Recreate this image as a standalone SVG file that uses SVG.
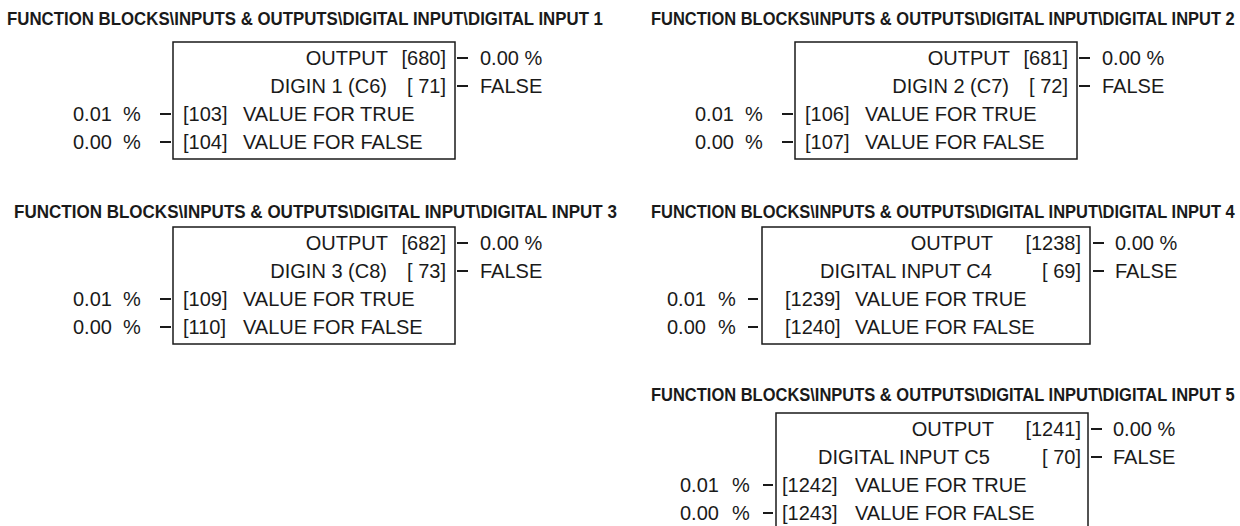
<svg xmlns="http://www.w3.org/2000/svg" width="1240" height="526" viewBox="0 0 1240 526">
<style>
text{font-family:"Liberation Sans",Arial,sans-serif;fill:#1a1a1a}
.t{font-size:19px;font-weight:bold}
.r{font-size:20px}
.e{text-anchor:end}
.box{fill:#fff;stroke:#1a1a1a;stroke-width:1.5}
.d{stroke:#1a1a1a;stroke-width:2}
</style>
<rect width="1240" height="526" fill="#fff"/>
<g id="di1">
<text class="t" transform="translate(7,25) scale(0.87,1)" x="0" y="0" textLength="685" lengthAdjust="spacingAndGlyphs">FUNCTION BLOCKS\INPUTS &amp; OUTPUTS\DIGITAL INPUT\DIGITAL INPUT 1</text>
<rect class="box" x="173" y="42" width="282" height="117"/>
<text class="r e" x="388" y="65">OUTPUT</text><text class="r e" x="446" y="65">[680]</text>
<text class="r e" x="387" y="93">DIGIN 1 (C6)</text><text class="r e" x="446" y="93">[ 71]</text>
<text class="r" x="183" y="121">[103]</text><text class="r" x="243" y="121">VALUE FOR TRUE</text>
<text class="r" x="183" y="149">[104]</text><text class="r" x="243" y="149">VALUE FOR FALSE</text>
<text class="r" x="73" y="121">0.01<tspan x="123">%</tspan></text>
<text class="r" x="73" y="149">0.00<tspan x="123">%</tspan></text>
<text class="r" x="480" y="65">0.00 %</text><text class="r" x="480" y="93">FALSE</text>
</g>
<g id="di2">
<text class="t" transform="translate(651,25) scale(0.87,1)" x="0" y="0" textLength="671" lengthAdjust="spacingAndGlyphs">FUNCTION BLOCKS\INPUTS &amp; OUTPUTS\DIGITAL INPUT\DIGITAL INPUT 2</text>
<rect class="box" x="795" y="42" width="282" height="117"/>
<text class="r e" x="1010" y="65">OUTPUT</text><text class="r e" x="1068" y="65">[681]</text>
<text class="r e" x="1009" y="93">DIGIN 2 (C7)</text><text class="r e" x="1068" y="93">[ 72]</text>
<text class="r" x="805" y="121">[106]</text><text class="r" x="865" y="121">VALUE FOR TRUE</text>
<text class="r" x="805" y="149">[107]</text><text class="r" x="865" y="149">VALUE FOR FALSE</text>
<text class="r" x="695" y="121">0.01<tspan x="745">%</tspan></text>
<text class="r" x="695" y="149">0.00<tspan x="745">%</tspan></text>
<text class="r" x="1102" y="65">0.00 %</text><text class="r" x="1102" y="93">FALSE</text>
</g>
<g id="di3">
<text class="t" transform="translate(14,218) scale(0.87,1)" x="0" y="0" textLength="693" lengthAdjust="spacingAndGlyphs">FUNCTION BLOCKS\INPUTS &amp; OUTPUTS\DIGITAL INPUT\DIGITAL INPUT 3</text>
<rect class="box" x="173" y="227" width="282" height="117"/>
<text class="r e" x="388" y="250">OUTPUT</text><text class="r e" x="446" y="250">[682]</text>
<text class="r e" x="387" y="278">DIGIN 3 (C8)</text><text class="r e" x="446" y="278">[ 73]</text>
<text class="r" x="183" y="306">[109]</text><text class="r" x="243" y="306">VALUE FOR TRUE</text>
<text class="r" x="183" y="334">[110]</text><text class="r" x="243" y="334">VALUE FOR FALSE</text>
<text class="r" x="73" y="306">0.01<tspan x="123">%</tspan></text>
<text class="r" x="73" y="334">0.00<tspan x="123">%</tspan></text>
<text class="r" x="480" y="250">0.00 %</text><text class="r" x="480" y="278">FALSE</text>
</g>
<g id="di4">
<text class="t" transform="translate(651,218) scale(0.87,1)" x="0" y="0" textLength="671" lengthAdjust="spacingAndGlyphs">FUNCTION BLOCKS\INPUTS &amp; OUTPUTS\DIGITAL INPUT\DIGITAL INPUT 4</text>
<rect class="box" x="762" y="227" width="328" height="117"/>
<text class="r e" x="993" y="250">OUTPUT</text><text class="r e" x="1081" y="250">[1238]</text>
<text class="r" x="820" y="278">DIGITAL INPUT C4</text><text class="r e" x="1081" y="278">[ 69]</text>
<text class="r" x="785" y="306">[1239]</text><text class="r" x="855" y="306">VALUE FOR TRUE</text>
<text class="r" x="785" y="334">[1240]</text><text class="r" x="855" y="334">VALUE FOR FALSE</text>
<text class="r" x="667" y="306">0.01<tspan x="718">%</tspan></text>
<text class="r" x="667" y="334">0.00<tspan x="718">%</tspan></text>
<text class="r" x="1115" y="250">0.00 %</text><text class="r" x="1115" y="278">FALSE</text>
</g>
<g id="di5">
<text class="t" transform="translate(651,401) scale(0.87,1)" x="0" y="0" textLength="671" lengthAdjust="spacingAndGlyphs">FUNCTION BLOCKS\INPUTS &amp; OUTPUTS\DIGITAL INPUT\DIGITAL INPUT 5</text>
<rect class="box" x="776" y="413" width="312" height="130"/>
<text class="r e" x="994" y="436">OUTPUT</text><text class="r e" x="1081" y="436">[1241]</text>
<text class="r" x="818" y="464">DIGITAL INPUT C5</text><text class="r e" x="1081" y="464">[ 70]</text>
<text class="r" x="782" y="492">[1242]</text><text class="r" x="855" y="492">VALUE FOR TRUE</text>
<text class="r" x="782" y="520">[1243]</text><text class="r" x="855" y="520">VALUE FOR FALSE</text>
<text class="r" x="680" y="492">0.01<tspan x="732">%</tspan></text>
<text class="r" x="680" y="520">0.00<tspan x="732">%</tspan></text>
<text class="r" x="1113" y="436">0.00 %</text><text class="r" x="1113" y="464">FALSE</text>
</g>
<g id="connectors">
<path class="d" d="M457 58H468M457 86H468M160 114H171M160 142H171"/>
<path class="d" d="M1079 58H1090M1079 86H1090M782 114H793M782 142H793"/>
<path class="d" d="M457 243H468M457 271H468M160 299H171M160 327H171"/>
<path class="d" d="M1093 243H1104M1093 271H1104M748 299H758M748 327H758"/>
<path class="d" d="M1091 429H1102M1091 457H1102M763 485H773M763 513H773"/>
</g>
</svg>
